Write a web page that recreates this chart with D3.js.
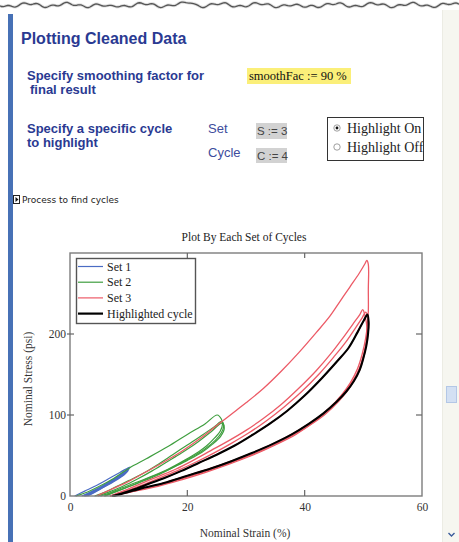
<!DOCTYPE html>
<html><head><meta charset="utf-8">
<script src="https://cdn.jsdelivr.net/npm/d3@7"></script>
<style>html,body{margin:0;padding:0;background:#fff;overflow:hidden}</style>
</head><body>
<script>
// ---------- data ----------
const seriesNames = ["Set 1", "Set 2", "Set 3", "Highlighted cycle"];
const seriesColors = ["#4a6cc4", "#3f9e3f", "#ec5a66", "#000000"];
const xTicks = [0, 20, 40, 60];
const yTicks = [0, 100, 200];
const selectedSet = 3, selectedCycle = 4;

// Set 1 cycles [strain %, stress psi]
const set1Cycle1 = [[0.8,0],[2.5,6],[4.5,13],[6.5,21],[8.5,29],[10.2,36],[9.8,33],[8.6,26],[7,19],[5.5,12],[4,6],[2.4,0]];
const set1Cycle2 = [[2.0,0],[3.5,5],[5.5,12],[7.5,21],[9,28],[10.1,34],[9.6,30],[8.2,23],[6.5,15],[5,9],[3.2,2],[2.6,0]];
const set1Cycle3 = [[2.3,0],[4,6],[6,14],[8,23],[10,33],[9.4,28],[7.8,20],[6,12],[4.2,5],[2.8,0]];
const set1Cycle4 = [[2.6,0],[4.3,6],[6.3,14],[8.2,22],[9.9,31],[9.2,26],[7.5,18],[5.8,11],[4.1,4],[3,0]];
// Set 2 cycles
const set2Cycle1 = [[1.0,0],[3,5],[5,12],[7.5,22],[10.2,35],[13,46],[16.7,61],[20,76],[23,89],[25.1,100],[25.8,95],[26,89],[25.6,80],[24.7,72],[23.3,62],[22,55],[19.5,44],[16.7,33],[13.5,23],[11,16],[8.5,9],[6.5,3],[5.2,0]];
const set2Cycle2 = [[4.2,0],[6,5],[8,12],[10,19],[12.5,28],[15,39],[17.5,51],[20,63],[22.5,75],[24.5,85],[25.9,92],[26.2,87],[25.8,78],[24.8,69],[23,58],[21,49],[18.5,39],[16,30],[13,21],[10.5,13],[8,6],[5.8,0]];
const set2Cycle3 = [[4.8,0],[7,6],[9,12],[11.5,21],[14,31],[16.5,42],[19,53],[21.5,65],[24,79],[25.9,90],[26.3,84],[25.7,74],[24.3,64],[22.5,54],[20,44],[17.5,35],[15,26],[12,17],[9.5,10],[7,3],[6,0]];
// Set 3 cycles
const set3Cycle1 = [[4.5,0],[7,8],[10,18],[13,30],[16,42],[19,55],[22,70],[25,87],[27.5,101],[30,115],[33,133],[36,154],[39,177],[42,202],[44.3,222],[46,240],[47.7,258],[49.3,275],[50.3,287],[50.6,291],[50.85,286],[50.85,255],[50.85,228],[50.7,212],[50.4,195],[49.8,175],[49,157],[47.8,140],[46.2,124],[44,107],[41.5,91],[38.5,76],[35,63],[31,50],[27,39],[23,29],[19,20],[15,12],[11,6],[8,2],[6.8,0]];
const set3Cycle2 = [[6.8,0],[9,6],[12,15],[15,24],[18,33],[21,44],[24,56],[27,68],[30,81],[33,96],[36,113],[39,133],[42,155],[44.5,176],[46.5,195],[48.2,212],[49.4,224],[49.9,230],[50.3,222],[50.6,208],[50.5,190],[50.1,175],[49.5,160],[48.6,145],[47.4,131],[45.8,117],[43.5,101],[41,88],[38,75],[34.5,62],[31,51],[27,40],[23,30],[19,21],[15,13],[11,6],[8,1.5],[7,0]];
const set3Cycle3 = [[7,0],[9.5,6],[12.5,14],[15.5,23],[18.5,32],[21.5,42],[24.5,53],[27.5,65],[30.5,78],[33.5,93],[36.5,110],[39.5,129],[42.5,151],[45,172],[47,190],[48.7,208],[49.8,220],[50.4,227],[50.8,218],[50.8,203],[50.5,188],[50,172],[49.3,157],[48.3,143],[47,130],[45.3,116],[43.1,101],[40.5,88],[37.5,75],[34.2,63],[30.7,52],[27.2,42],[23.5,33],[19.5,24],[15.5,15],[11.5,8],[8.6,2.5],[7.3,0]];
const set3Cycle4 = [[7.2,0],[10,6],[13,14],[16,22],[19,31],[22,41],[25,51],[28,62],[31,75],[34,89],[37,105],[40,124],[43,146],[45.5,166],[47.5,183],[49,202],[50.1,217],[50.7,224],[50.9,214],[50.8,200],[50.5,185],[50,170],[49.4,156],[48.4,142],[47.1,129],[45.4,116],[43.2,102],[40.7,89],[37.8,76],[34.5,64],[31,53],[27.5,43],[24,34],[20,25],[16,16],[12,9],[9,3],[7.5,0]];

const set1 = [set1Cycle1, set1Cycle2, set1Cycle3, set1Cycle4];
const set2 = [set2Cycle1, set2Cycle2, set2Cycle3];
const set3 = [set3Cycle1, set3Cycle2, set3Cycle3, set3Cycle4];
const allSets = [set1, set2, set3];

(function () {
// ---------- page ----------
const W = 459, H = 542;
const svg = d3.select("body").append("svg").attr("width", W).attr("height", H)
  .style("display","block");

svg.append("rect").attr("width", W).attr("height", H).attr("fill", "#fff");
// right gutter / scrollbar
svg.append("rect").attr("x", 442).attr("y", 10).attr("width", 17).attr("height", H-10).attr("fill", "#f6f6f0");
svg.append("line").attr("x1", 442.5).attr("x2", 442.5).attr("y1", 10).attr("y2", H).attr("stroke", "#ecece4");
svg.append("rect").attr("x", 446.5).attr("y", 386.5).attr("width", 10).attr("height", 16)
  .attr("fill", "#d3e0f3").attr("stroke", "#b3c7e6");
svg.append("path").attr("d", "M448.5,533 L451.5,536 L454.5,533").attr("fill","none").attr("stroke","#3b5c9c").attr("stroke-width",1.4);

// left blue bar
svg.append("rect").attr("x", 8).attr("y", 14).attr("width", 5).attr("height", H-14).attr("fill", "#4771b6");

// torn top edge (decoration)
const tornX = d3.range(0, W+1, 1.5);
const tornLine = d3.line().x(d => d).y(d => 5 + 1.6*Math.sin(d/6.1) + 1.1*Math.sin(d/2.3+1) + 2.8*Math.exp(-Math.pow((d-108)/6,2)) + 2.2*Math.exp(-Math.pow((d-300)/8,2)) - 2.5*Math.exp(-Math.pow((d-190)/5,2)));
svg.append("path").attr("d", tornLine(tornX)).attr("fill","none").attr("stroke","#bbb").attr("stroke-width",3).attr("opacity",0.5);
svg.append("path").attr("d", tornLine(tornX)).attr("fill","none").attr("stroke","#555").attr("stroke-width",1.3);

// header texts
const blue = "#2a3a92";
svg.append("text").attr("x", 21).attr("y", 44).text("Plotting Cleaned Data")
  .attr("font-family","Liberation Sans, Arial, sans-serif").attr("font-weight","bold").attr("font-size",16).attr("fill", blue);
const bold13 = (t, x, y) => svg.append("text").attr("x", x).attr("y", y).text(t)
  .attr("font-family","Liberation Sans, Arial, sans-serif").attr("font-weight","bold").attr("font-size",13).attr("fill", blue);
bold13("Specify smoothing factor for", 27, 80);
bold13("final result", 30, 94);
bold13("Specify a specific cycle", 27, 133);
bold13("to highlight", 27, 147);

svg.append("rect").attr("x", 247).attr("y", 68).attr("width", 104).attr("height", 16).attr("fill", "#fbef79");
svg.append("text").attr("x", 249).attr("y", 80).text("smoothFac := 90 %")
  .attr("font-family","Liberation Serif, Times New Roman, serif").attr("font-size",12.5).attr("fill","#111");

const reg13 = (t, x, y) => svg.append("text").attr("x", x).attr("y", y).text(t)
  .attr("font-family","Liberation Sans, Arial, sans-serif").attr("font-size",13).attr("fill", "#3d4c9c");
reg13("Set", 208, 133);
reg13("Cycle", 208, 157);
svg.append("rect").attr("x", 256).attr("y", 123).attr("width", 31).attr("height", 16).attr("fill", "#d2d2d2");
svg.append("rect").attr("x", 256).attr("y", 148).attr("width", 31).attr("height", 15).attr("fill", "#d2d2d2");
const valTxt = (t, x, y) => svg.append("text").attr("x", x).attr("y", y).text(t)
  .attr("font-family","Liberation Sans, Arial, sans-serif").attr("font-size",11.5).attr("fill", "#444");
valTxt("S := 3", 257, 135);
valTxt("C := 4", 257, 160);

// radio box
svg.append("defs").append("clipPath").attr("id","rclip").append("rect").attr("x",327).attr("y",117).attr("width",96).attr("height",43);
svg.append("rect").attr("x", 327.5).attr("y", 117.5).attr("width", 96).attr("height", 43).attr("fill","#fff").attr("stroke","#333").attr("stroke-width",1);
const rg = svg.append("g").attr("clip-path","url(#rclip)");
[["Highlight On", 133, true], ["Highlight Off", 152, false]].forEach(([t, yy, on]) => {
  rg.append("circle").attr("cx", 337).attr("cy", yy-5).attr("r", 3.2).attr("fill","#fff").attr("stroke","#888").attr("stroke-width",0.8);
  if (on) rg.append("circle").attr("cx", 337).attr("cy", yy-5).attr("r", 1.4).attr("fill","#111");
  rg.append("text").attr("x", 347).attr("y", yy).text(t)
    .attr("font-family","Liberation Serif, Times New Roman, serif").attr("font-size",14).attr("fill","#222");
});

// collapsed region marker
svg.append("rect").attr("x", 13.5).attr("y", 195.5).attr("width", 6).attr("height", 8).attr("fill","#fff").attr("stroke","#222").attr("stroke-width",1);
svg.append("path").attr("d","M15.5,197 L18.5,199.5 L15.5,202 Z").attr("fill","#111");
svg.append("text").attr("x", 22).attr("y", 202.5).text("Process to find cycles")
  .attr("font-family","DejaVu Sans, Verdana, sans-serif").attr("font-size",9).attr("fill","#222");

// ---------- chart ----------
const pL = 70, pR = 422, pT = 253, pB = 496;
const x = d3.scaleLinear().domain([0, 60]).range([pL, pR]);
const y = d3.scaleLinear().domain([0, 300]).range([pB, pT]);
const serif = "Liberation Serif, Times New Roman, serif";

svg.append("text").attr("x", 244).attr("y", 241).attr("text-anchor","middle").text("Plot By Each Set of Cycles")
  .attr("font-family", serif).attr("font-size", 11.5).attr("fill","#222");

const line = d3.line().x(d => x(d[0])).y(d => y(d[1])).curve(d3.curveCatmullRom.alpha(0.5));
const plot = svg.append("g");
allSets.forEach((cycles, si) => {
  cycles.forEach(c => {
    plot.append("path").attr("d", line(c)).attr("fill","none")
      .attr("stroke", seriesColors[si]).attr("stroke-width", si === 2 ? 1.3 : 1.2).attr("stroke-linejoin","round");
  });
});
plot.append("path").attr("d", line(allSets[selectedSet-1][selectedCycle-1])).attr("fill","none")
  .attr("stroke", seriesColors[3]).attr("stroke-width", 2.1).attr("stroke-linejoin","round");

// frame
svg.append("rect").attr("x", pL).attr("y", pT).attr("width", pR-pL).attr("height", pB-pT)
  .attr("fill","none").attr("stroke","#7d7d7d").attr("stroke-width",1.4);

// axes (labels via d3 axes, tick marks drawn inside the frame)
const gx = svg.append("g").attr("transform", `translate(0,${pB})`)
  .call(d3.axisBottom(x).tickValues(xTicks).tickSize(0).tickPadding(7).tickFormat(d3.format("d")));
const gy = svg.append("g").attr("transform", `translate(${pL},0)`)
  .call(d3.axisLeft(y).tickValues(yTicks).tickSize(0).tickPadding(4).tickFormat(d3.format("d")));
[gx, gy].forEach(g => {
  g.select(".domain").remove();
  g.selectAll("text").attr("font-family", serif).attr("font-size", 11.5).attr("fill", "#333");
});
const innerX = xTicks.filter(v => v > 0 && v < 60);
const innerY = yTicks.filter(v => v > 0);
innerX.forEach(v => {
  svg.append("line").attr("x1", x(v)).attr("x2", x(v)).attr("y1", pB).attr("y2", pB-6).attr("stroke","#666").attr("stroke-width",1.2);
  svg.append("line").attr("x1", x(v)).attr("x2", x(v)).attr("y1", pT).attr("y2", pT+5).attr("stroke","#666").attr("stroke-width",1.2);
});
innerY.forEach(v => {
  svg.append("line").attr("x1", pL-3).attr("x2", pL+4).attr("y1", y(v)).attr("y2", y(v)).attr("stroke","#666").attr("stroke-width",1.2);
  svg.append("line").attr("x1", pR).attr("x2", pR-6).attr("y1", y(v)).attr("y2", y(v)).attr("stroke","#666").attr("stroke-width",1.2);
});

svg.append("text").attr("x", 245).attr("y", 537).attr("text-anchor","middle").text("Nominal Strain (%)")
  .attr("font-family", serif).attr("font-size", 11.5).attr("fill","#333");
svg.append("text").attr("transform","translate(32,379) rotate(-90)").attr("text-anchor","middle").text("Nominal Stress (psi)")
  .attr("font-family", serif).attr("font-size", 11.5).attr("fill","#333");

// legend
const lg = svg.append("g").attr("transform","translate(76,258)");
lg.append("rect").attr("x",0.5).attr("y",0.5).attr("width",119).attr("height",65).attr("fill","#fff").attr("stroke","#555").attr("stroke-width",1.4);
seriesNames.forEach((n, i) => {
  const yy = 8.5 + i*15.7;
  lg.append("line").attr("x1", 2).attr("x2", 27).attr("y1", yy).attr("y2", yy)
    .attr("stroke", seriesColors[i]).attr("stroke-width", i === 3 ? 2.2 : 1.2);
  lg.append("text").attr("x", 31).attr("y", yy+4).text(n)
    .attr("font-family", serif).attr("font-size", 12).attr("fill","#222");
});
})();
</script>
</body></html>
